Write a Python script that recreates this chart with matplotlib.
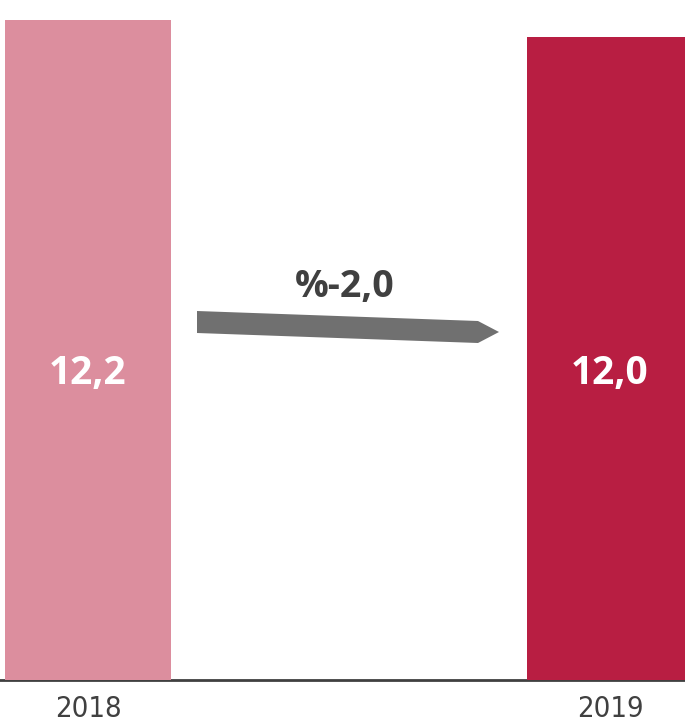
import matplotlib
matplotlib.use('Agg')
import matplotlib.pyplot as plt
from matplotlib.patches import Polygon

years = ['2018', '2019']
values = [12.2, 12.0]
value_labels = ['12,2', '12,0']
change_label = '%-2,0'
bar_colors = ['#DC8E9E', '#B81E42']

fig = plt.figure(figsize=(6.85, 7.27), dpi=100)
# axes fills the figure width, baseline at ~680px
ax = fig.add_axes([0, 1 - 680 / 727, 1, 680 / 727])

ax.bar([0, 1], values, width=0.318, color=bar_colors, zorder=2)
ax.set_xlim(-0.1686, 1.1437)
ax.set_ylim(4.4, 12.436)

for i, lab in enumerate(value_labels):
    ax.text(i, 0.451, lab, transform=ax.get_xaxis_transform(),
            ha='center', va='center', color='white',
            fontsize=28, fontweight='bold', family=['Open Sans', 'DejaVu Sans'])

# arrow between the bars (pixel positions converted to axes fraction)
pts = [(197, 311), (478, 321), (499, 332), (478, 343), (197, 333)]
pts = [(x / 685, (680 - y) / 680) for x, y in pts]
ax.add_patch(Polygon(pts, closed=True, facecolor='#707070', edgecolor='none',
                     transform=ax.transAxes, clip_on=False, zorder=3))
ax.text(345 / 685, (680 - 287) / 680, change_label, transform=ax.transAxes,
        ha='center', va='center', color='#404040', fontsize=27,
        fontweight='bold', family=['Open Sans', 'DejaVu Sans'])

for s in ['top', 'right', 'left']:
    ax.spines[s].set_visible(False)
ax.spines['bottom'].set_color('#404040')
ax.spines['bottom'].set_linewidth(2)
ax.spines['bottom'].set_zorder(1)
ax.set_yticks([])
ax.set_xticks([0, 1])
ax.set_xticklabels(years, family='DejaVu Sans', fontstretch='condensed',
                   fontsize=21, color='#404040')
ax.tick_params(axis='x', length=0, pad=11)

fig.savefig('out.png', dpi=100)
